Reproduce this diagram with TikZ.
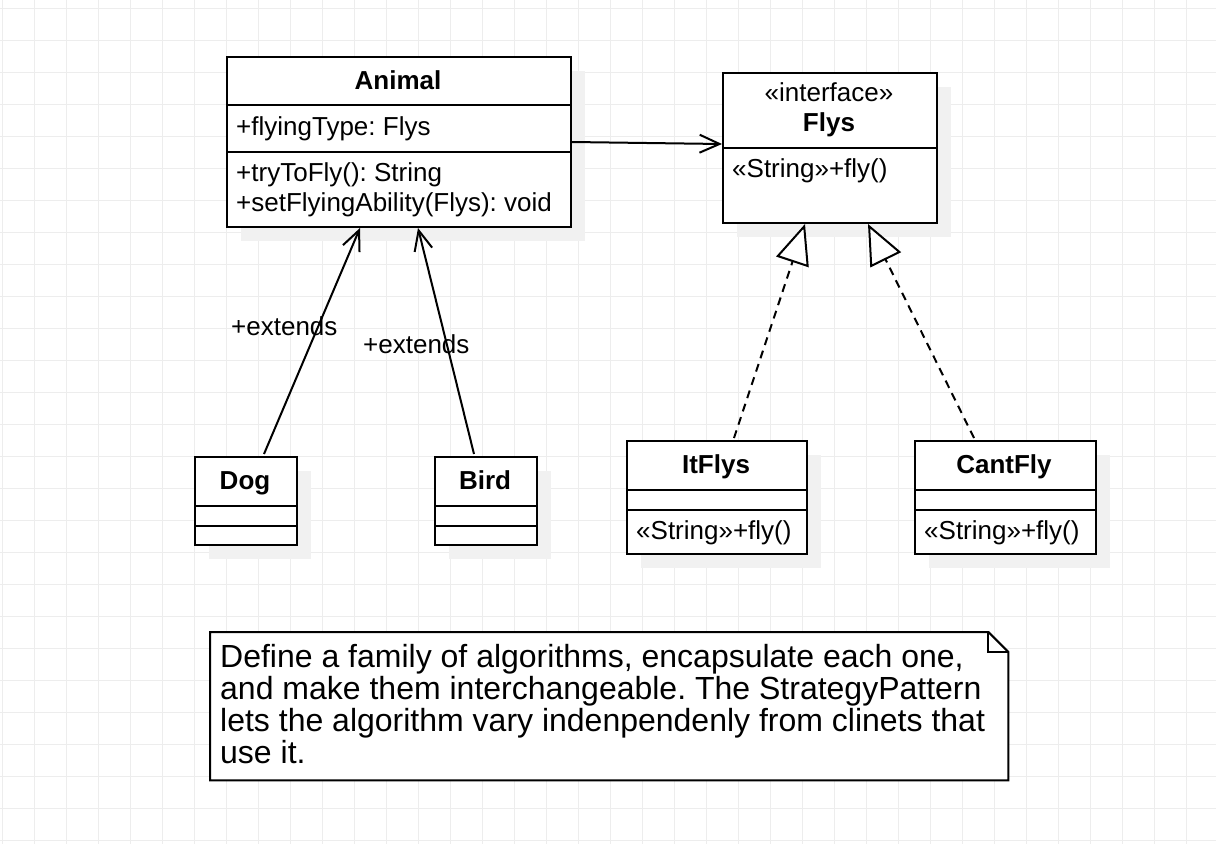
\documentclass[tikz,border=0pt]{standalone}
\usepackage{fontspec}
\setmainfont{Liberation Sans}
\usetikzlibrary{arrows.meta,calc,shadows}
\definecolor{gridc}{HTML}{EDEDED}
\definecolor{shadowc}{HTML}{F1F1F1}
\frenchspacing
\tikzset{
  classbox/.style={draw=black, line width=2pt, fill=white, anchor=north west, inner sep=0pt,
    drop shadow={shadow xshift=14pt, shadow yshift=-14pt, fill=shadowc, opacity=1}},
  sep/.style={line width=2pt},
  txt/.style={font=\fontsize{26}{30}\selectfont, inner sep=0pt, anchor=base west},
  ttl/.style={font=\fontsize{26}{30}\selectfont\bfseries, inner sep=0pt, anchor=base},
  stereo/.style={font=\fontsize{26}{30}\selectfont, inner sep=0pt, anchor=base},
  assoc/.style={line width=2pt, -{Straight Barb[length=20pt, width=18pt, line width=2pt]}},
  gen/.style={line width=2pt, -{Triangle[fill=white, length=40pt, width=34pt, line width=2pt]}},
  real/.style={gen, dash pattern=on 8pt off 6pt},
  notetext/.style={font=\fontsize{32}{32}\selectfont, inner sep=0pt, anchor=north west, align=left}
}
\begin{document}
\begin{tikzpicture}[x=1pt,y=-1pt]
\useasboundingbox (0,0) rectangle (1216,844);
\fill[white] (0,0) rectangle (1216,844);
% grid
\foreach \gx in {2,34,...,1216} \draw[gridc, line width=1pt] (\gx,0) -- (\gx,844);
\foreach \gy in {8,40,...,844} \draw[gridc, line width=1pt] (0,\gy) -- (1216,\gy);

% Animal
\node[classbox, minimum width=344pt, minimum height=170pt] (animal) at (226,56) {};
\draw[sep] (animal.west |- 0,105) -- (animal.east |- 0,105);
\draw[sep] (animal.west |- 0,152) -- (animal.east |- 0,152);
\node[ttl] (animalT) at (398,89) {Animal};
\node[txt] (animalA) at (236,135) {+flyingType: Flys};
\node[txt] (animalM1) at (236,181) {+tryToFly(): String};
\node[txt] (animalM2) at (236,211) {+setFlyingAbility(Flys): void};

% Flys
\node[classbox, minimum width=214pt, minimum height=150pt] (flys) at (722,72) {};
\draw[sep] (flys.west |- 0,148) -- (flys.east |- 0,148);
\node[stereo] (flysS) at (829,101) {«interface»};
\node[ttl] (flysT) at (829,131) {Flys};
\node[txt] (flysM) at (732,177) {«String»+fly()};

% Dog
\node[classbox, minimum width=102pt, minimum height=88pt] (dog) at (194,456) {};
\draw[sep] (dog.west |- 0,506) -- (dog.east |- 0,506);
\draw[sep] (dog.west |- 0,526) -- (dog.east |- 0,526);
\node[ttl] (dogT) at (245,489) {Dog};

% Bird
\node[classbox, minimum width=102pt, minimum height=88pt] (bird) at (434,456) {};
\draw[sep] (bird.west |- 0,506) -- (bird.east |- 0,506);
\draw[sep] (bird.west |- 0,526) -- (bird.east |- 0,526);
\node[ttl] (birdT) at (485,489) {Bird};

% ItFlys
\node[classbox, minimum width=180pt, minimum height=113pt] (itflys) at (626,440) {};
\draw[sep] (itflys.west |- 0,490) -- (itflys.east |- 0,490);
\draw[sep] (itflys.west |- 0,510) -- (itflys.east |- 0,510);
\node[ttl] (itflysT) at (716,473) {ItFlys};
\node[txt] (itflysM) at (636,539) {«String»+fly()};

% CantFly
\node[classbox, minimum width=181pt, minimum height=113pt] (cantfly) at (914,440) {};
\draw[sep] (cantfly.west |- 0,490) -- (cantfly.east |- 0,490);
\draw[sep] (cantfly.west |- 0,510) -- (cantfly.east |- 0,510);
\node[ttl] (cantflyT) at (1004,473) {CantFly};
\node[txt] (cantflyM) at (924,539) {«String»+fly()};

% connectors
\draw[assoc] (animal.east |- 0,142) -- (flys.west |- 0,144);
\draw[assoc] ($(dog.north west)+(70,-2)$) -- ($(animal.south west)+(134,0)$);
\draw[assoc] ($(bird.north west)+(40,-2)$) -- ($(animal.south west)+(192,0)$);
\draw[real] ($(itflys.north west)+(108,-2)$) -- ($(flys.south west)+(83,0)$);
\draw[real] ($(cantfly.north west)+(60,-2)$) -- ($(flys.south west)+(146,0)$);
\node[txt] (ext1) at (231,335) {+extends};
\node[txt] (ext2) at (363,353) {+extends};

% note
\node[minimum width=798pt, minimum height=148pt, anchor=north west, inner sep=0pt] (note) at (210,632) {};
\draw[line width=2pt, fill=white, line join=miter] (note.north west) -- ($(note.north east)+(-20,0)$) -- ($(note.north east)+(0,20)$) -- (note.south east) -- (note.south west) -- cycle;
\draw[line width=2pt] ($(note.north east)+(-20,0)$) -- ($(note.north east)+(-20,20)$) -- ($(note.north east)+(0,20)$);
\node[notetext] (noteT) at (220,644) {Define a family of algorithms, encapsulate each one,\\and make them interchangeable. The StrategyPattern\\lets the algorithm vary indenpendenly from clinets that\\use it.};
\end{tikzpicture}
\end{document}
